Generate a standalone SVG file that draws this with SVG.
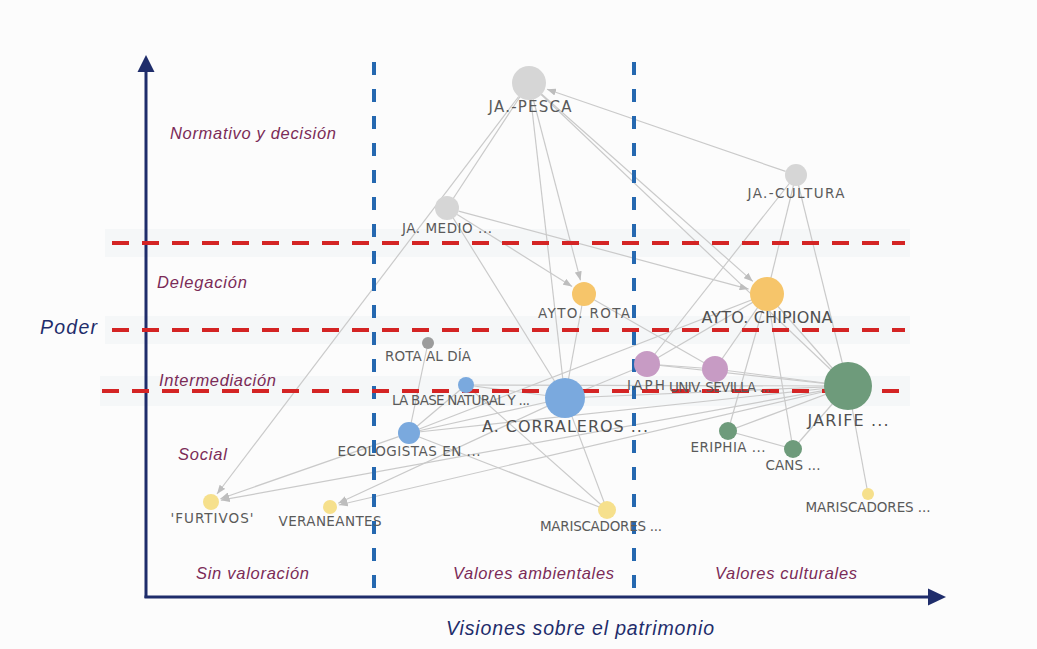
<svg xmlns="http://www.w3.org/2000/svg" width="1037" height="649" viewBox="0 0 1037 649">
<defs>
<marker id="arr" markerWidth="9" markerHeight="7" refX="9" refY="3.5" orient="auto" markerUnits="userSpaceOnUse"><path d="M0,0 L9,3.5 L0,7 z" fill="#bdbdbd"/></marker>
<style>
.e{stroke:#cacaca;stroke-width:1.2;fill:none}
.ea{stroke:#cacaca;stroke-width:1.2;fill:none;marker-end:url(#arr)}
.lbl{font-family:"DejaVu Sans","Noto Sans",sans-serif;fill:#5a5a5a;font-size:13.5px;text-anchor:middle}
.big{font-size:16px;fill:#505050}
.cat{font-family:"Liberation Sans",Arial,sans-serif;font-style:italic;fill:#7b2b57;font-size:16.5px}
.ax{font-family:"Liberation Sans",Arial,sans-serif;font-style:italic;fill:#1f2d6b;font-size:19.5px}
.red{stroke:#d42424;stroke-width:4;stroke-dasharray:17 13}
.blue{stroke:#2568b0;stroke-width:4;stroke-dasharray:13 14}
.gray{fill:#d6d6d6}.org{fill:#f6c56a}.pur{fill:#c79bc4}.grn{fill:#6e9b7b}.blu{fill:#7aa9de}.yel{fill:#f6e08c}
</style>
</defs>
<rect width="1037" height="649" fill="#fcfcfc"/>
<g id="bands" fill="#eef1f4" opacity="0.45">
<rect x="105" y="229" width="805" height="28"/>
<rect x="105" y="316" width="805" height="28"/>
<rect x="100" y="376" width="810" height="30"/>
</g>
<g id="connectors">
<line class="e" x1="529" y1="83" x2="447" y2="208"/>
<line class="e" x1="529" y1="83" x2="565" y2="398"/>
<line class="e" x1="529" y1="83" x2="848" y2="386"/>
<line class="e" x1="796" y1="175" x2="647" y2="364"/>
<line class="e" x1="796" y1="175" x2="767" y2="294"/>
<line class="e" x1="796" y1="175" x2="848" y2="386"/>
<line class="e" x1="447" y1="208" x2="565" y2="398"/>
<line class="e" x1="584" y1="294" x2="565" y2="398"/>
<line class="e" x1="584" y1="294" x2="715" y2="369"/>
<line class="e" x1="767" y1="294" x2="647" y2="364"/>
<line class="e" x1="767" y1="294" x2="715" y2="369"/>
<line class="e" x1="767" y1="294" x2="728" y2="431"/>
<line class="e" x1="767" y1="294" x2="793" y2="449"/>
<line class="e" x1="767" y1="294" x2="848" y2="386"/>
<line class="e" x1="409" y1="433" x2="767" y2="294"/>
<line class="e" x1="647" y1="364" x2="715" y2="369"/>
<line class="e" x1="647" y1="364" x2="848" y2="386"/>
<line class="e" x1="715" y1="369" x2="848" y2="386"/>
<line class="e" x1="647" y1="364" x2="565" y2="398"/>
<line class="e" x1="565" y1="398" x2="848" y2="386"/>
<line class="e" x1="466" y1="385" x2="848" y2="386"/>
<line class="e" x1="409" y1="433" x2="848" y2="386"/>
<line class="e" x1="728" y1="431" x2="848" y2="386"/>
<line class="e" x1="728" y1="431" x2="793" y2="449"/>
<line class="e" x1="793" y1="449" x2="848" y2="386"/>
<line class="e" x1="848" y1="386" x2="868" y2="494"/>
<line class="e" x1="409" y1="433" x2="607" y2="510"/>
<line class="e" x1="466" y1="385" x2="607" y2="510"/>
<line class="e" x1="565" y1="398" x2="607" y2="510"/>
<line class="e" x1="409" y1="433" x2="565" y2="398"/>
<line class="e" x1="409" y1="433" x2="466" y2="385"/>
<line class="e" x1="428" y1="343" x2="409" y2="433"/>
<line class="e" x1="466" y1="385" x2="565" y2="398"/>
<line class="ea" x1="518.7" y1="96.5" x2="217" y2="494"/>
<line class="ea" x1="533.3" y1="99.5" x2="580.5" y2="280.4"/>
<line class="ea" x1="541.7" y1="94.3" x2="752.8" y2="281.4"/>
<line class="ea" x1="457.2" y1="214.4" x2="572.1" y2="286.6"/>
<line class="ea" x1="458.6" y1="211.1" x2="748.6" y2="289.1"/>
<line class="ea" x1="785.6" y1="171.4" x2="547" y2="89.2"/>
<line class="ea" x1="398.6" y1="436.6" x2="220.4" y2="498.7"/>
<line class="ea" x1="824.4" y1="390.3" x2="220.8" y2="500.2"/>
<line class="ea" x1="546.9" y1="406.4" x2="338.2" y2="503.2"/>
<line class="ea" x1="824.6" y1="391.5" x2="338.8" y2="505"/>
</g>
<g id="axes" fill="#1f2d6b" stroke="#1f2d6b">
<line x1="146" y1="598" x2="146" y2="68" stroke-width="3"/>
<polygon points="146,55 137.5,72 154.5,72" stroke="none"/>
<line x1="144.5" y1="597" x2="930" y2="597" stroke-width="3"/>
<polygon points="946,597 928,588.5 928,605.5" stroke="none"/>
</g>
<g id="dividers">
<line class="blue" x1="374" y1="62" x2="374" y2="592"/>
<line class="blue" x1="634" y1="62" x2="634" y2="592"/>
<line class="red" x1="112" y1="243" x2="905" y2="243"/>
<line class="red" x1="112" y1="330" x2="905" y2="330"/>
<line class="red" x1="102" y1="391" x2="905" y2="391"/>
</g>
<g id="n-pesca"><circle class="gray" cx="529" cy="83" r="17"/><text class="lbl" x="530" y="112" textLength="83" style="font-size:15px">JA.-PESCA</text></g>
<g id="n-cultura"><circle class="gray" cx="796" cy="175" r="11"/><text class="lbl" x="796" y="198" textLength="97">JA.-CULTURA</text></g>
<g id="n-medio"><circle class="gray" cx="447" cy="208" r="12"/><text class="lbl" x="447" y="233" textLength="90">JA. MEDIO ...</text></g>
<g id="n-rota"><circle class="org" cx="584" cy="294" r="12"/><text class="lbl" x="584" y="318" textLength="92">AYTO.  ROTA</text></g>
<g id="n-chipiona"><circle class="org" cx="767" cy="294" r="17"/><text class="lbl big" x="767" y="323" textLength="131">AYTO. CHIPIONA</text></g>
<g id="n-rotaaldia"><circle fill="#9c9c9c" cx="428" cy="343" r="6"/><text class="lbl" x="428" y="361" textLength="86">ROTA AL DÍA</text></g>
<g id="n-iaph"><circle class="pur" cx="647" cy="364" r="13"/><text class="lbl" x="646" y="390" textLength="38">IAPH</text></g>
<g id="n-univ"><circle class="pur" cx="715" cy="369" r="13"/><text class="lbl" x="669" y="392" style="text-anchor:start" textLength="102">UNIV. SEVILLA ...</text></g>
<g id="n-jarife"><circle class="grn" cx="848" cy="386" r="24"/><text class="lbl big" x="848" y="426" textLength="81">JARIFE ...</text></g>
<g id="n-labase"><circle class="blu" cx="466" cy="385" r="8"/><text class="lbl" x="461" y="405" textLength="138">LA BASE NATURAL Y ...</text></g>
<g id="n-corraleros"><circle class="blu" cx="565" cy="398" r="20"/><text class="lbl big" x="565" y="432" textLength="166">A. CORRALEROS ...</text></g>
<g id="n-ecologistas"><circle class="blu" cx="409" cy="433" r="11"/><text class="lbl" x="409" y="456" textLength="143">ECOLOGISTAS EN ...</text></g>
<g id="n-eriphia"><circle class="grn" cx="728" cy="431" r="9"/><text class="lbl" x="728" y="452" textLength="75">ERIPHIA ...</text></g>
<g id="n-cans"><circle class="grn" cx="793" cy="449" r="9"/><text class="lbl" x="793" y="470" textLength="55">CANS ...</text></g>
<g id="n-furtivos"><circle class="yel" cx="211" cy="502" r="8"/><text class="lbl" x="212" y="523" textLength="83">'FURTIVOS'</text></g>
<g id="n-veraneantes"><circle class="yel" cx="330" cy="507" r="7"/><text class="lbl" x="330" y="526" textLength="103">VERANEANTES</text></g>
<g id="n-mariscadores1"><circle class="yel" cx="607" cy="510" r="9"/><text class="lbl" x="601" y="531" textLength="122">MARISCADORES ...</text></g>
<g id="n-mariscadores2"><circle class="yel" cx="868" cy="494" r="6"/><text class="lbl" x="868" y="512" textLength="125">MARISCADORES ...</text></g>
<g id="labels">
<text class="cat" x="170" y="139" textLength="166">Normativo y decisión</text>
<text class="cat" x="157" y="288" textLength="90">Delegación</text>
<text class="cat" x="159" y="386" textLength="117">Intermediación</text>
<text class="cat" x="178" y="460" textLength="49">Social</text>
<text class="cat" x="196" y="579" textLength="113">Sin valoración</text>
<text class="cat" x="453" y="579" textLength="161">Valores ambientales</text>
<text class="cat" x="715" y="579" textLength="142">Valores culturales</text>
<text class="ax" x="40" y="334" textLength="57">Poder</text>
<text class="ax" x="446" y="635" textLength="268">Visiones sobre el patrimonio</text>
</g>
</svg>
